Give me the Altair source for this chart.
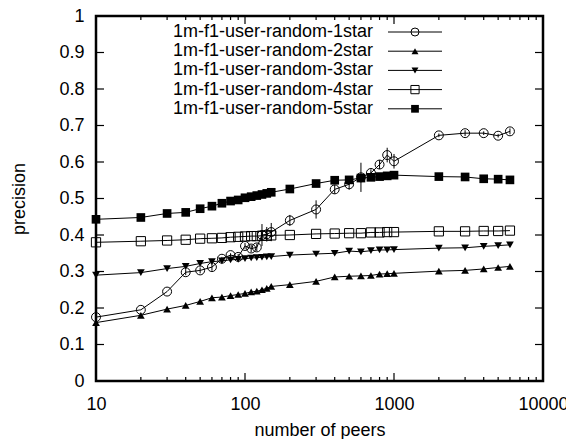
import altair as alt
import pandas as pd

# ---------------- data ----------------
peers = [10, 20, 30, 40, 50, 60, 70, 80, 90, 100, 110, 120, 130, 140, 150,
         200, 300, 400, 500, 600, 700, 800, 900, 1000, 2000, 3000, 4000, 5000, 6000]

star1 = [0.175, 0.195, 0.245, 0.298, 0.303, 0.312, 0.335, 0.345, 0.340, 0.370,
         0.363, 0.366, 0.400, 0.402, 0.408, 0.440, 0.470, 0.525, 0.539, 0.558,
         0.570, 0.593, 0.619, 0.602, 0.673, 0.679, 0.679, 0.672, 0.684]
star1_err = [0, 0, 0, 0.008, 0.008, 0.010, 0.005, 0.005, 0.008, 0.008,
             0.010, 0.010, 0.030, 0.020, 0.025, 0.015, 0.025, 0.012, 0.015, 0.040,
             0.010, 0.012, 0.020, 0.020, 0.005, 0.008, 0.005, 0.005, 0.008]
star2 = [0.160, 0.180, 0.197, 0.207, 0.218, 0.228, 0.230, 0.234, 0.237, 0.240,
         0.244, 0.246, 0.250, 0.254, 0.259, 0.264, 0.273, 0.285, 0.287, 0.288,
         0.289, 0.293, 0.294, 0.295, 0.301, 0.303, 0.307, 0.311, 0.314]
star3 = [0.290, 0.297, 0.308, 0.314, 0.322, 0.327, 0.329, 0.332, 0.333, 0.335,
         0.337, 0.338, 0.339, 0.340, 0.341, 0.345, 0.348, 0.350, 0.356, 0.354,
         0.357, 0.359, 0.359, 0.360, 0.364, 0.365, 0.369, 0.371, 0.373]
star4 = [0.380, 0.383, 0.385, 0.387, 0.390, 0.391, 0.392, 0.394, 0.395, 0.396,
         0.397, 0.397, 0.398, 0.398, 0.399, 0.400, 0.403, 0.404, 0.405, 0.405,
         0.407, 0.407, 0.408, 0.408, 0.410, 0.410, 0.411, 0.411, 0.412]
star5 = [0.443, 0.448, 0.459, 0.462, 0.472, 0.479, 0.487, 0.493, 0.496, 0.502,
         0.505, 0.508, 0.511, 0.514, 0.517, 0.526, 0.541, 0.550, 0.551, 0.556,
         0.558, 0.560, 0.562, 0.564, 0.560, 0.559, 0.554, 0.553, 0.551]

series_names = ["1m-f1-user-random-1star", "1m-f1-user-random-2star",
                "1m-f1-user-random-3star", "1m-f1-user-random-4star",
                "1m-f1-user-random-5star"]
series_values = [star1, star2, star3, star4, star5]

x_major = [10, 100, 1000, 10000]
x_minor = [20, 30, 40, 50, 60, 70, 80, 90, 200, 300, 400, 500, 600, 700, 800, 900,
           2000, 3000, 4000, 5000, 6000, 7000, 8000, 9000]
y_ticks = [0, 0.1, 0.2, 0.3, 0.4, 0.5, 0.6, 0.7, 0.8, 0.9, 1]

# ---------------- styling ----------------
W, H = 447, 365
FONT = "Liberation Sans"
FS = 18
shapes = ["circle", "triangle-up", "triangle-down", "square", "square"]
filled = [False, True, True, False, True]
sizes = [80, 60, 60, 85, 75]

xscale = alt.Scale(type="log", domain=[10, 10000])
yscale = alt.Scale(domain=[0, 1])
xaxis = alt.Axis(values=x_major, format="d", ticks=False, domain=False, grid=False,
                 labelFontSize=FS, labelPadding=14, labelFlush=False, labelOffset=0,
                 title="number of peers", titleFontSize=FS, titleFontWeight="normal",
                 titlePadding=8)
yaxis = alt.Axis(values=y_ticks, format="~g", ticks=False, domain=False, grid=False,
                 labelFontSize=FS, labelPadding=12,
                 title="precision", titleFontSize=FS, titleFontWeight="normal",
                 titlePadding=30)


def X(field):
    return alt.X(f"{field}:Q", scale=xscale, axis=xaxis)


def Y(field):
    return alt.Y(f"{field}:Q", scale=yscale, axis=yaxis)


layers = []

# inward ticks (bottom/top for x, left/right for y)
df_xmaj = pd.DataFrame({"x": x_major})
df_xmin = pd.DataFrame({"x": x_minor})
df_y = pd.DataFrame({"y": y_ticks})
for df, ln in ((df_xmaj, 8), (df_xmin, 4)):
    base = alt.Chart(df).mark_rule(color="black", strokeWidth=1.2)
    layers.append(base.encode(x=X("x"), y=alt.value(H), y2=alt.value(H - ln)))
    layers.append(base.encode(x=X("x"), y=alt.value(0), y2=alt.value(ln)))
ybase = alt.Chart(df_y).mark_rule(color="black", strokeWidth=1.2)
layers.append(ybase.encode(y=Y("y"), x=alt.value(0), x2=alt.value(8)))
layers.append(ybase.encode(y=Y("y"), x=alt.value(W - 8), x2=alt.value(W)))

# error bars for series 1
df_err = pd.DataFrame({"x": peers,
                       "lo": [v - e for v, e in zip(star1, star1_err)],
                       "hi": [v + e for v, e in zip(star1, star1_err)]})
layers.append(alt.Chart(df_err).mark_rule(color="black", strokeWidth=1).encode(
    x=X("x"), y=Y("lo"), y2="hi:Q"))

# series lines + markers
for i, (name, vals) in enumerate(zip(series_names, series_values)):
    df = pd.DataFrame({"x": peers, "y": vals})
    layers.append(alt.Chart(df).mark_line(color="black", strokeWidth=1).encode(
        x=X("x"), y=Y("y")))
    layers.append(alt.Chart(df).mark_point(
        shape=shapes[i], filled=filled[i], size=sizes[i], color="black",
        strokeWidth=1, opacity=1).encode(x=X("x"), y=Y("y")))

# legend (gnuplot style: right-aligned label, line sample with marker)
leg_text_x, leg_line_x0, leg_line_x1 = 277, 292, 346
leg_y0, leg_dy = 16, 19.2
for i, name in enumerate(series_names):
    ly = leg_y0 + i * leg_dy
    dfl = pd.DataFrame({"name": [name]})
    layers.append(alt.Chart(dfl).mark_text(
        align="right", baseline="middle", fontSize=FS, font=FONT, color="black").encode(
        text="name:N", x=alt.value(leg_text_x), y=alt.value(ly)))
    layers.append(alt.Chart(dfl).mark_rule(color="black", strokeWidth=1).encode(
        x=alt.value(leg_line_x0), x2=alt.value(leg_line_x1), y=alt.value(ly)))
    layers.append(alt.Chart(dfl).mark_point(
        shape=shapes[i], filled=filled[i], size=sizes[i] * 0.8, color="black",
        strokeWidth=1, opacity=1).encode(
        x=alt.value((leg_line_x0 + leg_line_x1) / 2), y=alt.value(ly)))

chart = alt.layer(*layers).properties(
    width=W, height=H,
    padding={"left": 88, "top": 8, "right": 23, "bottom": 58},
    autosize=alt.AutoSizeParams(type="none"),
).configure(font=FONT).configure_view(
    stroke="black", strokeWidth=2.5
).configure_axis(labelFont=FONT, titleFont=FONT, labelColor="black", titleColor="black")

chart.save("out.html", embed_options={"renderer": "svg", "actions": False})
